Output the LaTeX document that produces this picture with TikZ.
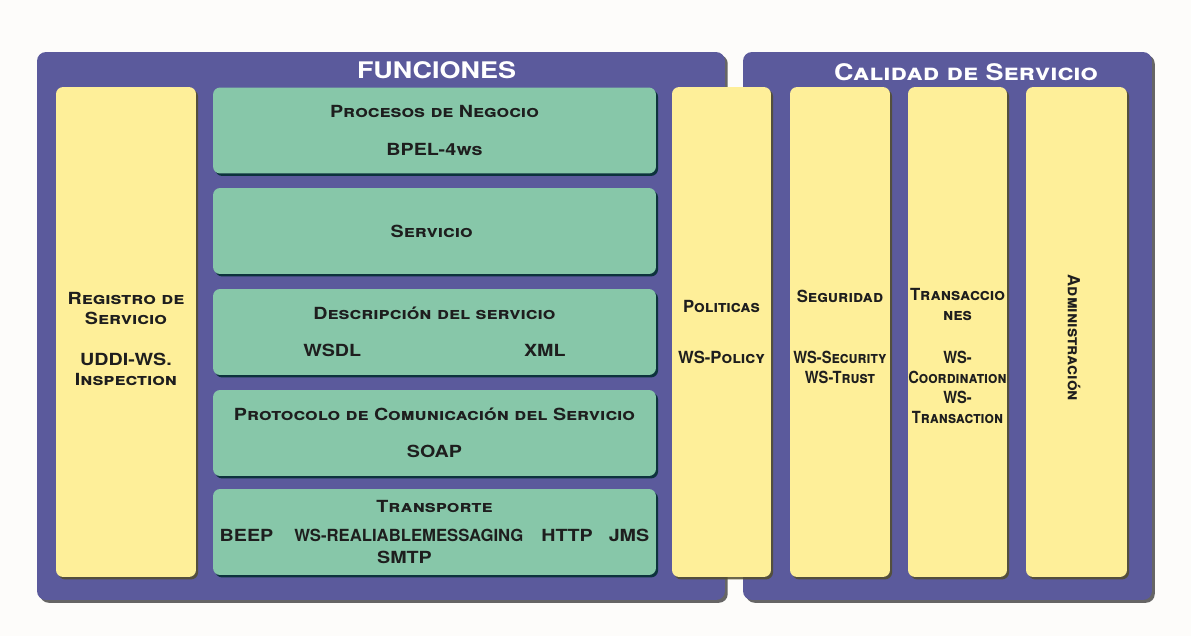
\documentclass[tikz,border=0pt]{standalone}
\usepackage{fontspec}
\setmainfont{TeX Gyre Heros}
\newfontfamily\widefont{TeX Gyre Heros}[FakeStretch=1.18]
\newfontfamily\narrowfont{TeX Gyre Heros}[FakeStretch=0.88]
\usepackage{tikz}
\usetikzlibrary{positioning, shadows, backgrounds}

\definecolor{paper}{RGB}{253,252,250}
\definecolor{frameblue}{RGB}{91,90,156}
\definecolor{boxyellow}{RGB}{254,239,153}
\definecolor{boxgreen}{RGB}{135,199,169}
\definecolor{ink}{RGB}{30,30,30}

\newcommand{\detailsize}{\narrowfont\bfseries\scshape\fontsize{9.5}{11.4}\selectfont}

\begin{document}
\begin{tikzpicture}[
    x=0.02cm, y=-0.02cm,
    font=\bfseries\scshape\fontsize{9.5}{11.4}\selectfont,
    groupframe/.style={rectangle, fill=frameblue, rounded corners=5pt, inner sep=0pt, drop shadow={shadow xshift=1.6pt, shadow yshift=-1.6pt, fill=black!85, opacity=0.7}},
    grouplbl/.style={text=white, inner sep=1pt, font=\widefont\bfseries\scshape\fontsize{13}{16}\selectfont},
    yellowcol/.style={rectangle, fill=boxyellow, rounded corners=4pt, inner sep=0pt, minimum height=9.8cm, align=center, text=ink, drop shadow={shadow xshift=1.2pt, shadow yshift=-1.4pt, fill=olive!45!black, opacity=0.85}},
    greenbox/.style={rectangle, fill=boxgreen, rounded corners=4pt, inner sep=1pt, minimum width=8.86cm, minimum height=1.72cm, align=center, text=ink, font=\widefont\bfseries\scshape\fontsize{9.5}{11.4}\selectfont, drop shadow={shadow xshift=1.2pt, shadow yshift=-1.4pt, fill=teal!35!black, opacity=0.85}}
]
    \useasboundingbox [fill=paper] (0,0) rectangle (1191,636);

    % Marcos
    \node [groupframe, minimum width=13.76cm, minimum height=10.96cm] (box_funciones) at (381, 326) {};
    \node [groupframe, minimum width=8.18cm, minimum height=10.96cm] (box_calidad) at (947.5, 326) {};
    \node [grouplbl] (lbl_funciones) at (436.5, 70) {FUNCIONES};
    \node [grouplbl] (lbl_calidad) at (966, 72) {Calidad de Servicio};

    % Registro
    \node [yellowcol, minimum width=2.8cm, font=\widefont\bfseries\scshape\fontsize{9.5}{11.4}\selectfont] (registro) at (126, 332) {
        \rule{0pt}{0.52cm}Registro de\\Servicio\\[12pt]UDDI-WS.\\Inspection
    };

    % Funciones
    \node [greenbox] (procesos) at (434.5, 130.5) {
        Procesos de Negocio\\[10pt]BPEL-4ws
    };
    \node [greenbox] (servicio) at (434.5, 231) {
        Servicio
    };
    \node [greenbox] (descripcion) at (434.5, 332) {
        Descripción del servicio\\[10pt]WSDL\hspace{3.26cm}XML
    };
    \node [greenbox] (protocolo) at (434.5, 433) {
        Protocolo de Comunicación del Servicio\\[10pt]SOAP
    };
    \node [greenbox] (transporte) at (434.5, 532) {
        Transporte\\[5pt]BEEP\hspace{0.42cm}{\normalfont\bfseries\scshape\fontsize{9.5}{11.4}\selectfont WS-REALIABLEMESSAGING}\hspace{0.36cm}HTTP\hspace{0.32cm}JMS\\[1pt]\hspace*{-1.2cm}SMTP
    };

    % Calidad de servicio
    \node [yellowcol, minimum width=1.98cm] (politicas) at (721.5, 332) {
        Politicas\\[18pt]WS-Policy
    };
    \node [yellowcol, minimum width=2cm] (seguridad) at (840, 332) {
        \rule{0pt}{0.45cm}Seguridad\\[23pt]\detailsize WS-Security\\\detailsize WS-Trust
    };
    \node [yellowcol, minimum width=1.98cm] (transacciones) at (957.5, 332) {
        \rule{0pt}{1.2cm}Transaccio\\nes\\[13pt]\detailsize WS-\\\detailsize Coordination\\\detailsize WS-\\\detailsize Transaction
    };
    \node [yellowcol, minimum width=2.02cm] (administracion) at (1076.5, 332) {};
    \node [rotate=-90, text=ink] (lbl_admin) at (1074, 338) {Administración};

\end{tikzpicture}
\end{document}
